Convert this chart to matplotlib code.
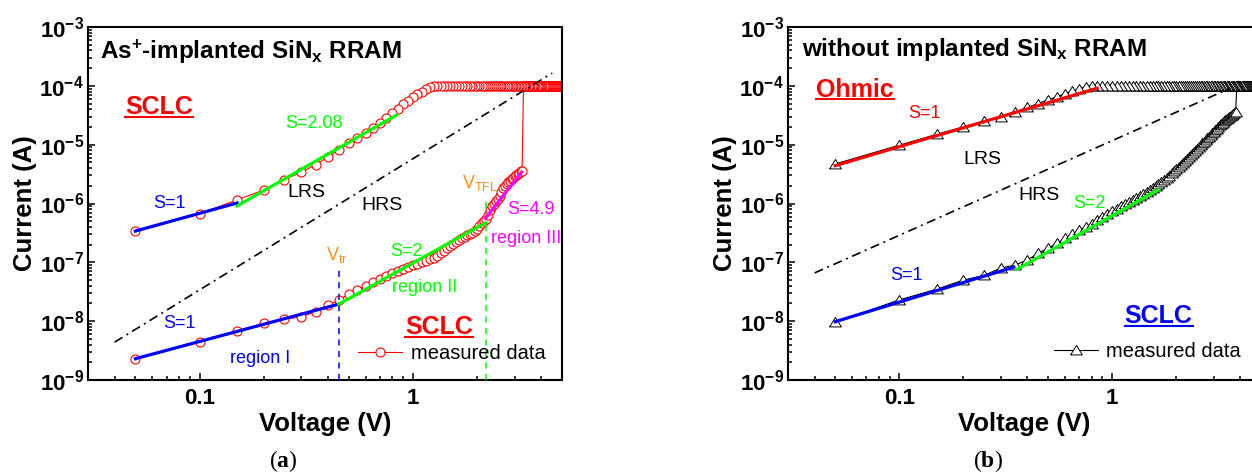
import matplotlib
matplotlib.use("Agg")
import matplotlib.pyplot as plt
from matplotlib.ticker import LogLocator, NullFormatter
from matplotlib.lines import Line2D

plt.rcParams['font.family'] = ['Liberation Sans', 'DejaVu Sans']
plt.rcParams['mathtext.fontset'] = 'custom'
plt.rcParams['mathtext.rm'] = 'Liberation Sans'
plt.rcParams['mathtext.it'] = 'Liberation Sans:italic'
plt.rcParams['mathtext.bf'] = 'Liberation Serif:bold'
plt.rcParams['mathtext.default'] = 'regular'

# ---------------- data ----------------
volts = [0.05, 0.10, 0.15, 0.20, 0.25, 0.30, 0.35, 0.40, 0.45, 0.50,
         0.55, 0.60, 0.65, 0.70, 0.75, 0.80, 0.85, 0.90, 0.95, 1.00,
         1.05, 1.10, 1.15, 1.20, 1.25, 1.30, 1.35, 1.40, 1.45, 1.50,
         1.55, 1.60, 1.65, 1.70, 1.75, 1.80, 1.85, 1.90, 1.95, 2.00,
         2.05, 2.10, 2.15, 2.20, 2.25, 2.30, 2.35, 2.40, 2.45, 2.50,
         2.55, 2.60, 2.65, 2.70, 2.75, 2.80, 2.85, 2.90, 2.95, 3.00,
         3.05, 3.10, 3.15, 3.20, 3.25, 3.30, 3.35, 3.40, 3.45, 3.50,
         3.55, 3.60, 3.65, 3.70, 3.75, 3.80, 3.85, 3.90, 3.95, 4.00,
         4.05, 4.10, 4.15, 4.20, 4.25, 4.30, 4.35, 4.40, 4.45, 4.50,
         4.55, 4.60, 4.65, 4.70, 4.75, 4.80, 4.85, 4.90, 4.95, 5.00]

# (a) As+-implanted SiNx: HRS sweep (set at 3.25 V, compliance 1e-4 A)
i_hrs_a = [2.3e-9, 4.5e-9, 6.8e-9, 9.2e-9, 1.08e-8, 1.18e-8, 1.45e-8, 1.85e-8, 2.3e-8, 2.85e-8,
           3.4e-8, 4.0e-8, 4.6e-8, 5.3e-8, 5.9e-8, 6.5e-8, 7.2e-8, 7.8e-8, 8.4e-8, 8.9e-8,
           9.4e-8, 1.0e-7, 1.07e-7, 1.13e-7, 1.2e-7, 1.3e-7, 1.42e-7, 1.58e-7, 1.75e-7, 1.9e-7,
           2.05e-7, 2.2e-7, 2.38e-7, 2.55e-7, 2.72e-7, 2.9e-7, 3.05e-7, 3.2e-7, 3.4e-7, 3.7e-7,
           4.1e-7, 4.6e-7, 5.0e-7, 5.5e-7, 6.5e-7, 7.8e-7, 9.0e-7, 1.0e-6, 1.1e-6, 1.2e-6,
           1.35e-6, 1.55e-6, 1.8e-6, 2.0e-6, 2.15e-6, 2.3e-6, 2.45e-6, 2.6e-6, 2.75e-6, 2.9e-6,
           3.05e-6, 3.2e-6, 3.35e-6, 3.5e-6, 3.6e-6, 1e-4, 1e-4, 1e-4, 1e-4, 1e-4,
           1e-4, 1e-4, 1e-4, 1e-4, 1e-4, 1e-4, 1e-4, 1e-4, 1e-4, 1e-4,
           1e-4, 1e-4, 1e-4, 1e-4, 1e-4, 1e-4, 1e-4, 1e-4, 1e-4, 1e-4,
           1e-4, 1e-4, 1e-4, 1e-4, 1e-4, 1e-4, 1e-4, 1e-4, 1e-4, 1e-4]
# (a) LRS sweep
i_lrs_a = [3.4e-7, 6.7e-7, 1.15e-6, 1.7e-6, 2.55e-6, 3.4e-6, 4.6e-6, 6.1e-6, 8.2e-6, 1.05e-5,
           1.32e-5, 1.6e-5, 1.95e-5, 2.35e-5, 2.85e-5, 3.4e-5, 4.1e-5, 4.9e-5, 5.6e-5, 6.4e-5,
           7.2e-5, 8.0e-5, 9.0e-5, 9.7e-5, 1e-4, 1e-4, 1e-4, 1e-4, 1e-4, 1e-4,
           1e-4, 1e-4, 1e-4, 1e-4, 1e-4, 1e-4, 1e-4, 1e-4, 1e-4, 1e-4,
           1e-4, 1e-4, 1e-4, 1e-4, 1e-4, 1e-4, 1e-4, 1e-4, 1e-4, 1e-4,
           1e-4, 1e-4, 1e-4, 1e-4, 1e-4, 1e-4, 1e-4, 1e-4, 1e-4, 1e-4,
           1e-4, 1e-4, 1e-4, 1e-4, 1e-4, 1e-4, 1e-4, 1e-4, 1e-4, 1e-4,
           1e-4, 1e-4, 1e-4, 1e-4, 1e-4, 1e-4, 1e-4, 1e-4, 1e-4, 1e-4,
           1e-4, 1e-4, 1e-4, 1e-4, 1e-4, 1e-4, 1e-4, 1e-4, 1e-4, 1e-4,
           1e-4, 1e-4, 1e-4, 1e-4, 1e-4, 1e-4, 1e-4, 1e-4, 1e-4, 1e-4]

# (b) without implantation: HRS sweep (set at 3.8 V)
i_hrs_b = [9.6e-9, 2.3e-8, 3.5e-8, 5.0e-8, 6.0e-8, 8.0e-8, 9.0e-8, 1.1e-7, 1.42e-7, 1.75e-7,
           2.1e-7, 2.55e-7, 3.0e-7, 3.5e-7, 4.0e-7, 4.5e-7, 5.2e-7, 5.9e-7, 6.6e-7, 7.4e-7,
           8.2e-7, 9.0e-7, 9.8e-7, 1.06e-6, 1.14e-6, 1.23e-6, 1.33e-6, 1.44e-6, 1.56e-6, 1.69e-6,
           1.83e-6, 1.98e-6, 2.15e-6, 2.33e-6, 2.53e-6, 2.75e-6, 2.99e-6, 3.25e-6, 3.53e-6, 3.83e-6,
           4.15e-6, 4.5e-6, 4.88e-6, 5.28e-6, 5.7e-6, 6.15e-6, 6.65e-6, 7.2e-6, 7.8e-6, 8.45e-6,
           9.1e-6, 9.8e-6, 1.05e-5, 1.12e-5, 1.2e-5, 1.28e-5, 1.37e-5, 1.46e-5, 1.56e-5, 1.66e-5,
           1.77e-5, 1.88e-5, 2.0e-5, 2.12e-5, 2.24e-5, 2.36e-5, 2.48e-5, 2.6e-5, 2.72e-5, 2.84e-5,
           2.96e-5, 3.08e-5, 3.2e-5, 3.32e-5, 3.45e-5, 3.58e-5, 1e-4, 1e-4, 1e-4, 1e-4,
           1e-4, 1e-4, 1e-4, 1e-4, 1e-4, 1e-4, 1e-4, 1e-4, 1e-4, 1e-4,
           1e-4, 1e-4, 1e-4, 1e-4, 1e-4, 1e-4, 1e-4, 1e-4, 1e-4, 1e-4]
# (b) LRS sweep
i_lrs_b = [4.7e-6, 9.8e-6, 1.5e-5, 2.0e-5, 2.5e-5, 2.95e-5, 3.6e-5, 4.3e-5, 5.0e-5, 5.8e-5,
           6.5e-5, 7.4e-5, 8.1e-5, 8.9e-5, 9.5e-5, 1e-4, 1e-4, 1e-4, 1e-4, 1e-4,
           1e-4, 1e-4, 1e-4, 1e-4, 1e-4, 1e-4, 1e-4, 1e-4, 1e-4, 1e-4,
           1e-4, 1e-4, 1e-4, 1e-4, 1e-4, 1e-4, 1e-4, 1e-4, 1e-4, 1e-4,
           1e-4, 1e-4, 1e-4, 1e-4, 1e-4, 1e-4, 1e-4, 1e-4, 1e-4, 1e-4,
           1e-4, 1e-4, 1e-4, 1e-4, 1e-4, 1e-4, 1e-4, 1e-4, 1e-4, 1e-4,
           1e-4, 1e-4, 1e-4, 1e-4, 1e-4, 1e-4, 1e-4, 1e-4, 1e-4, 1e-4,
           1e-4, 1e-4, 1e-4, 1e-4, 1e-4, 1e-4, 1e-4, 1e-4, 1e-4, 1e-4,
           1e-4, 1e-4, 1e-4, 1e-4, 1e-4, 1e-4, 1e-4, 1e-4, 1e-4, 1e-4,
           1e-4, 1e-4, 1e-4, 1e-4, 1e-4, 1e-4, 1e-4, 1e-4, 1e-4, 1e-4]

# fitted segments (voltage endpoints, current endpoints)
fit_a_lrs_s1_v = [0.05, 0.15];  fit_a_lrs_s1_i = [3.4e-7, 1.02e-6]
fit_a_lrs_s208_v = [0.15, 0.84]; fit_a_lrs_s208_i = [9.1e-7, 3.2e-5]
fit_a_hrs_s1_v = [0.05, 0.45];  fit_a_hrs_s1_i = [2.3e-9, 1.95e-8]
fit_a_hrs_s2_v = [0.45, 2.19];  fit_a_hrs_s2_i = [1.95e-8, 4.7e-7]
fit_a_hrs_s49_v = [2.19, 3.23]; fit_a_hrs_s49_i = [5.6e-7, 3.4e-6]
guide_a_v = [0.04, 4.5];        guide_a_i = [4.4e-9, 1.65e-4]
v_tr, v_tr_top = 0.45, 8.3e-8
v_tfl, v_tfl_top = 2.2, 1.3e-6

fit_b_lrs_s1_v = [0.05, 0.85];  fit_b_lrs_s1_i = [4.4e-6, 9.1e-5]
fit_b_hrs_s1_v = [0.05, 0.345]; fit_b_hrs_s1_i = [9.8e-9, 8.3e-8]
fit_b_hrs_s2_v = [0.357, 1.64]; fit_b_hrs_s2_i = [7.6e-8, 1.7e-6]
guide_b_v = [0.04, 3.58];       guide_b_i = [6.6e-8, 9.1e-5]

ytick_vals = [1e-9, 1e-8, 1e-7, 1e-6, 1e-5, 1e-4, 1e-3]
ytick_labels = [r"$10^{-9}$", r"$10^{-8}$", r"$10^{-7}$", r"$10^{-6}$",
                r"$10^{-5}$", r"$10^{-4}$", r"$10^{-3}$"]
xtick_vals = [0.1, 1]
xtick_labels = ["0.1", "1"]

# ---------------- styling ----------------
RED = '#FF0000'; BLUE = '#0000FF'; GREEN = '#00FF00'; MAG = '#FF00FF'; ORANGE = '#FF8C1A'
tri = [(-1, -0.75), (1, -0.75), (0, 0.85), (-1, -0.75)]

fig = plt.figure(figsize=(12.52, 4.72), dpi=100)
ax_a = fig.add_axes([88 / 1252, 1 - 380 / 472, 474 / 1252, 353 / 472])
ax_b = fig.add_axes([788 / 1252, 1 - 380 / 472, 473 / 1252, 353 / 472])


def style_axes(ax):
    ax.set_xscale('log')
    ax.set_yscale('log')
    ax.set_xlim(0.03, 5)
    ax.set_ylim(1e-9, 1e-3)
    ax.set_yticks(ytick_vals, labels=ytick_labels, fontsize=16, fontweight='bold')
    ax.set_xticks(xtick_vals, labels=xtick_labels, fontsize=16, fontweight='bold')
    ax.xaxis.set_minor_locator(LogLocator(base=10, subs=range(2, 10), numticks=100))
    ax.yaxis.set_minor_locator(LogLocator(base=10, subs=range(2, 10), numticks=100))
    ax.xaxis.set_minor_formatter(NullFormatter())
    ax.yaxis.set_minor_formatter(NullFormatter())
    ax.tick_params(which='both', direction='in', top=False, right=False, width=1.1)
    ax.tick_params(which='major', length=5)
    ax.tick_params(which='minor', length=2.8)
    ax.tick_params(axis='y', pad=3)
    ax.tick_params(axis='x', pad=6)
    for s in ax.spines.values():
        s.set_linewidth(1.5)
    ax.set_xlabel("Voltage (V)", fontsize=18.5, fontweight='bold', labelpad=2)
    ax.set_ylabel("Current (A)", fontsize=18.5, fontweight='bold', labelpad=2)


for ax in (ax_a, ax_b):
    style_axes(ax)

# measured sweeps: HRS up, then LRS back down
seq_v = volts + volts[::-1]
ax_a.plot(seq_v, i_hrs_a + i_lrs_a[::-1], color=RED, lw=0.8, marker='o', ms=6.5,
          mfc='white', mec=RED, mew=0.8, zorder=2)
ax_b.plot(seq_v, i_hrs_b + i_lrs_b[::-1], color='black', lw=0.8, marker=tri, ms=8.5,
          mfc='white', mec='black', mew=0.7, zorder=2)

# fits (a)
ax_a.plot(fit_a_lrs_s1_v, fit_a_lrs_s1_i, color=BLUE, lw=2.3, zorder=4)
ax_a.plot(fit_a_lrs_s208_v, fit_a_lrs_s208_i, color=GREEN, lw=2.3, zorder=4)
ax_a.plot(fit_a_hrs_s1_v, fit_a_hrs_s1_i, color=BLUE, lw=2.3, zorder=4)
ax_a.plot(fit_a_hrs_s2_v, fit_a_hrs_s2_i, color=GREEN, lw=2.3, zorder=4)
ax_a.plot(fit_a_hrs_s49_v, fit_a_hrs_s49_i, color=MAG, lw=2.3, zorder=4)
ax_a.plot(guide_a_v, guide_a_i, color='black', lw=1.2, dashes=(5.5, 2.8, 1.2, 2.8), zorder=3)
ax_a.plot([v_tr, v_tr], [1e-9, v_tr_top], color=BLUE, lw=1.1, dashes=(4, 3.5), zorder=3)
ax_a.plot([v_tfl, v_tfl], [1e-9, v_tfl_top], color=GREEN, lw=1.1, dashes=(4, 3.5), zorder=3)

# fits (b)
ax_b.plot(fit_b_lrs_s1_v, fit_b_lrs_s1_i, color=RED, lw=2.3, zorder=4)
ax_b.plot(fit_b_hrs_s1_v, fit_b_hrs_s1_i, color=BLUE, lw=2.3, zorder=4)
ax_b.plot(fit_b_hrs_s2_v, fit_b_hrs_s2_i, color=GREEN, lw=2.3, zorder=4)
ax_b.plot(guide_b_v, guide_b_i, color='black', lw=1.2, dashes=(5.5, 2.8, 1.2, 2.8), zorder=3)


def label(ax, x, y, s, color='black', size=13, weight='normal'):
    return ax.text(x, y, s, transform=ax.transAxes, color=color, fontsize=size,
                   fontweight=weight, ha='left', va='center', zorder=5)


# annotations (a)
label(ax_a, 0.025, 0.930, r"As$^{+}$-implanted SiN$_{x}$ RRAM", size=17.5, weight='bold')
sclc_a1 = label(ax_a, 0.078, 0.773, "SCLC", RED, 18, 'bold')
label(ax_a, 0.137, 0.499, "S=1", BLUE)
label(ax_a, 0.416, 0.728, "S=2.08", GREEN)
label(ax_a, 0.420, 0.530, "LRS", size=14)
label(ax_a, 0.576, 0.493, "HRS", size=14)
label(ax_a, 0.503, 0.354, r"V$_{tr}$", ORANGE)
label(ax_a, 0.637, 0.363, "S=2", GREEN)
label(ax_a, 0.641, 0.263, "region II", GREEN)
label(ax_a, 0.789, 0.558, r"V$_{TFL}$", ORANGE)
label(ax_a, 0.884, 0.484, "S=4.9", MAG)
label(ax_a, 0.850, 0.402, "region III", MAG)
label(ax_a, 0.158, 0.159, "S=1", BLUE)
label(ax_a, 0.300, 0.062, "region I", BLUE)
sclc_a2 = label(ax_a, 0.669, 0.150, "SCLC", RED, 18, 'bold')

# annotations (b)
label(ax_b, 0.030, 0.935, r"without implanted SiN$_{x}$ RRAM", size=17.5, weight='bold')
ohmic_b = label(ax_b, 0.059, 0.822, "Ohmic", RED, 18, 'bold')
label(ax_b, 0.254, 0.754, "S=1", RED)
label(ax_b, 0.370, 0.626, "LRS", size=14)
label(ax_b, 0.486, 0.524, "HRS", size=14)
label(ax_b, 0.603, 0.499, "S=2", GREEN)
label(ax_b, 0.216, 0.297, "S=1", BLUE)
sclc_b = label(ax_b, 0.712, 0.181, "SCLC", BLUE, 18, 'bold')

# legends
h_a = Line2D([], [], color=RED, lw=0.8, marker='o', ms=6.5, mfc='white', mec=RED, mew=0.8)
ax_a.legend([h_a], ["measured data"], loc='center left', bbox_to_anchor=(0.570, 0.074),
            frameon=False, fontsize=14.5, handlelength=2.2, handletextpad=0.4,
            borderpad=0, borderaxespad=0)
h_b = Line2D([], [], color='black', lw=0.8, marker=tri, ms=8.5, mfc='white', mec='black', mew=0.7)
ax_b.legend([h_b], ["measured data"], loc='center left', bbox_to_anchor=(0.562, 0.082),
            frameon=False, fontsize=14.5, handlelength=2.2, handletextpad=0.4,
            borderpad=0, borderaxespad=0)

# captions
fig.text(0.226, 0.024, r"($\mathbf{a}$)", fontsize=17, family='Liberation Serif',
         ha='center', va='center')
fig.text(0.789, 0.024, r"($\mathbf{b}$)", fontsize=17, family='Liberation Serif',
         ha='center', va='center')

# underlines for the bold keywords
fig.canvas.draw()
renderer = fig.canvas.get_renderer()
inv = fig.transFigure.inverted()
for t in (sclc_a1, sclc_a2, ohmic_b, sclc_b):
    bb = t.get_window_extent(renderer)
    y = bb.y0 + 0.10 * bb.height
    (x0, y0), (x1, _) = inv.transform([(bb.x0, y), (bb.x1, y)])
    fig.add_artist(Line2D([x0, x1], [y0, y0], transform=fig.transFigure,
                          color=t.get_color(), lw=1.5))

fig.savefig("out.png", dpi=100)
